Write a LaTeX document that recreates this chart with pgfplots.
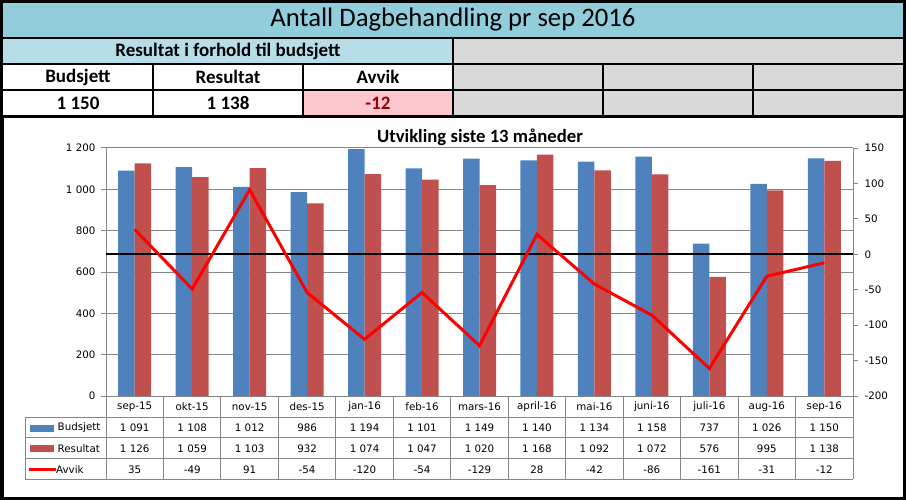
\documentclass[border=0pt]{standalone}
\usepackage{pgfplots}
\pgfplotsset{compat=1.18}
\usepackage{fontspec}
\setmainfont{Carlito}
\newfontfamily\dv{DejaVu Sans}
\definecolor{headBlue}{HTML}{92CDDC}
\definecolor{subBlue}{HTML}{B7DEE8}
\definecolor{grayCell}{HTML}{D9D9D9}
\definecolor{pinkCell}{HTML}{FFC7CE}
\definecolor{darkRed}{HTML}{9C0006}
\definecolor{barBlue}{HTML}{4F81BD}
\definecolor{barRed}{HTML}{C0504D}
\definecolor{gridGray}{HTML}{868686}
\pgfplotstableread{
x b r a
0 1091 1126 35
1 1108 1059 -49
2 1012 1103 91
3 986 932 -54
4 1194 1074 -120
5 1101 1047 -54
6 1149 1020 -129
7 1140 1168 28
8 1134 1092 -42
9 1158 1072 -86
10 737 576 -161
11 1026 995 -31
12 1150 1138 -12
}\data
\newcommand{\tabfont}{\dv\fontsize{10.3}{12}\selectfont}
\begin{document}
\begin{tikzpicture}
\begin{scope}[x=1pt,y=-1pt]
\useasboundingbox (0,0) rectangle (906,500);
% header fills
\fill[headBlue] (0,0) rectangle (906,38);
\fill[subBlue] (0,38) rectangle (453,64);
\fill[grayCell] (453,38) rectangle (906,116);
\fill[white] (0,64) rectangle (453,116);
\fill[pinkCell] (303,90) rectangle (453,116);
% header lines
\draw[line width=2.5pt] (0,38) -- (906,38);
\draw[line width=2.5pt] (0,64) -- (906,64);
\draw[line width=2.5pt] (0,90) -- (906,90);
\draw[line width=2.5pt] (453,38) -- (453,116);
\foreach \x in {153,303,603,753} \draw[line width=2.5pt] (\x,64) -- (\x,116);
\draw[line width=3pt] (1.5,1.5) rectangle (904.5,116.5);
% header text
\node[font=\fontsize{26.7}{30}\selectfont] at (453,20) {Antall Dagbehandling pr sep 2016};
\node[font=\bfseries\fontsize{19}{22}\selectfont] at (228,51) {Resultat i forhold til budsjett};
\node[font=\bfseries\fontsize{19}{22}\selectfont] at (78,77) {Budsjett};
\node[font=\bfseries\fontsize{19}{22}\selectfont] at (228,77) {Resultat};
\node[font=\bfseries\fontsize{19}{22}\selectfont] at (378,77) {Avvik};
\node[font=\bfseries\fontsize{19}{22}\selectfont] at (78,103) {1 150};
\node[font=\bfseries\fontsize{19}{22}\selectfont] at (228,103) {1 138};
\node[font=\bfseries\fontsize{19}{22}\selectfont, text=darkRed] at (378,103) {-12};
% chart box
\draw[line width=3.5pt] (1.75,116.5) rectangle (904.25,498.25);
% chart title
\node[font=\bfseries\fontsize{18.7}{22}\selectfont] at (480,137) {Utvikling siste 13 måneder};
% data table grid
\foreach \k in {0,...,13} {
  \pgfmathsetmacro\xx{106+\k*747/13}
  \draw[gridGray, line width=1pt] (\xx,396) -- (\xx,479);
}
\draw[gridGray, line width=1pt] (25,417) -- (25,479);
\foreach \yy in {417,437.7,458.3,479} \draw[gridGray, line width=1pt] (25,\yy) -- (853,\yy);
% legend keys
\fill[barBlue] (30,424.5) rectangle (54,431.5);
\fill[barRed] (30,445) rectangle (54,452);
\draw[red, line width=3pt] (29,469) -- (56,469);
\node[font=\tabfont, anchor=west, inner sep=0pt] at (57.5,428) {Budsjett};
\node[font=\tabfont, anchor=west, inner sep=0pt] at (57.5,449) {Resultat};
\node[font=\tabfont, anchor=west, inner sep=0pt] at (56,469.5) {Avvik};
% table values
\foreach \m/\b/\r/\a [count=\i from 0] in {sep-15/1 091/1 126/35, okt-15/1 108/1 059/-49, nov-15/1 012/1 103/91, des-15/986/932/-54, jan-16/1 194/1 074/-120, feb-16/1 101/1 047/-54, mars-16/1 149/1 020/-129, april-16/1 140/1 168/28, mai-16/1 134/1 092/-42, juni-16/1 158/1 072/-86, juli-16/737/576/-161, aug-16/1 026/995/-31, sep-16/1 150/1 138/-12} {
  \pgfmathsetmacro\cx{106+(\i+0.5)*747/13}
  \node[font=\tabfont] at (\cx,407) {\m};
  \node[font=\tabfont] at (\cx,428) {\b};
  \node[font=\tabfont] at (\cx,449) {\r};
  \node[font=\tabfont] at (\cx,469.5) {\a};
}
\end{scope}
% primary axis: bars
\begin{axis}[
  at={(106pt,-396pt)}, anchor=south west,
  scale only axis, width=747pt, height=248pt,
  xmin=-0.5, xmax=12.5, ymin=0, ymax=1200,
  ybar=0pt, bar width=16.5pt,
  xtick=\empty,
  ytick={0,200,400,600,800,1000,1200},
  yticklabels={0,200,400,600,800,1 000,1 200},
  axis y line*=left, axis x line*=bottom,
  axis line style={draw=gridGray, line width=1pt, -},
  ymajorgrids, grid style={draw=gridGray, line width=1pt},
  tick align=outside, major tick length=5pt,
  tick style={draw=gridGray, line width=1pt},
  yticklabel style={font=\tabfont, xshift=-2pt},
]
\addplot[fill=barBlue, draw=none] table[x=x, y=b] {\data};
\addplot[fill=barRed, draw=none] table[x=x, y=r] {\data};
\end{axis}
% secondary axis: deviation
\begin{axis}[
  at={(106pt,-396pt)}, anchor=south west,
  scale only axis, width=747pt, height=248pt,
  xmin=-0.5, xmax=12.5, ymin=-200, ymax=150,
  axis y line*=right, axis x line=none,
  axis line style={draw=gridGray, line width=1pt, -},
  ytick={-200,-150,-100,-50,0,50,100,150},
  yticklabels={-200,-150,-100,-50,0,50,100,150},
  tick align=outside, major tick length=5pt,
  tick style={draw=gridGray, line width=1pt},
  yticklabel style={font=\tabfont, xshift=3pt},
]
\addplot[black, line width=2.2pt] coordinates {(-0.5,0) (12.5,0)};
\addplot[red, line width=3pt] table[x=x, y=a] {\data};
\end{axis}
\end{tikzpicture}
\end{document}
